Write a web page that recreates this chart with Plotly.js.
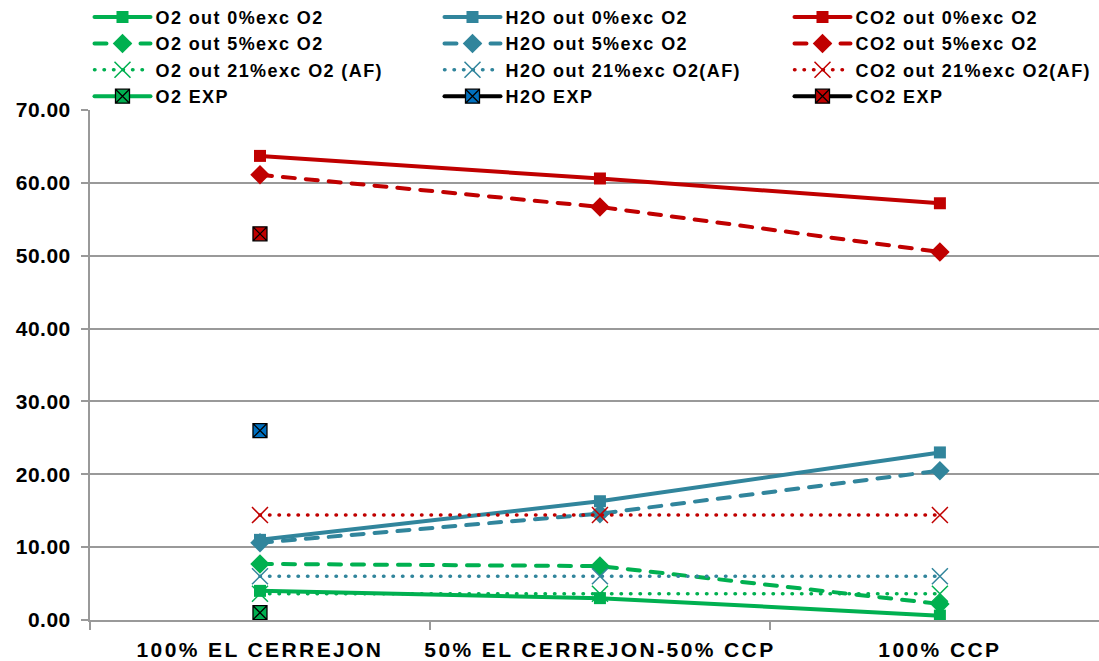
<!DOCTYPE html>
<html>
<head>
<meta charset="utf-8">
<script src="https://cdn.plot.ly/plotly-3.0.1.min.js"></script>
<style>
html,body{margin:0;padding:0;background:#fff;}
#chart{width:1099px;height:661px;}
#chart .legendtext{letter-spacing:1.4px;}
#chart .xtick text{letter-spacing:2.4px;}
#chart .ytick text{letter-spacing:0.5px;}
#chart .scatterlayer .js-line, #chart .legendlines .js-line{stroke-linecap:round;}
</style>
</head>
<body>
<div id="chart"></div>
<script>
const categories = ['100% EL CERREJON', '50% EL CERREJON-50% CCP', '100% CCP'];
const expCategory = ['100% EL CERREJON'];

const o2Out0 = [4.0, 3.0, 0.6];
const h2oOut0 = [11.0, 16.3, 23.0];
const co2Out0 = [63.7, 60.6, 57.2];
const o2Out5 = [7.7, 7.4, 2.2];
const h2oOut5 = [10.6, 14.6, 20.5];
const co2Out5 = [61.1, 56.7, 50.5];
const o2Out21 = [3.6, 3.6, 3.6];
const h2oOut21 = [6.0, 6.0, 6.0];
const co2Out21 = [14.4, 14.4, 14.4];
const o2Exp = [1.0];
const h2oExp = [26.0];
const co2Exp = [53.0];

const names = [
  'O2 out 0%exc O2', 'H2O out 0%exc O2', 'CO2 out 0%exc O2',
  'O2 out 5%exc O2', 'H2O out 5%exc O2', 'CO2 out 5%exc O2',
  'O2 out 21%exc O2 (AF)', 'H2O out 21%exc O2(AF)', 'CO2 out 21%exc O2(AF)',
  'O2 EXP', 'H2O EXP', 'CO2 EXP'
];

const GREEN = '#00b050', TEAL = '#31859c', RED = '#c00000', BLUE = '#0070c0';

function solid(name, y, color) {
  return {x: categories, y: y, name: name, type: 'scatter', mode: 'lines+markers',
    line: {color: color, width: 4}, marker: {symbol: 'square', size: 12, color: color}, cliponaxis: false};
}
function dashed(name, y, color) {
  return {x: categories, y: y, name: name, type: 'scatter', mode: 'lines+markers',
    line: {color: color, width: 4, dash: '12px,11px'}, marker: {symbol: 'diamond', size: 15, color: color}, cliponaxis: false};
}
function dotted(name, y, color) {
  return {x: categories, y: y, name: name, type: 'scatter', mode: 'lines+markers',
    line: {color: color, width: 3.5, dash: '0.5px,9px'},
    marker: {symbol: 'x-thin-open', size: 16, color: color, line: {color: color, width: 1.5}}, cliponaxis: false};
}
function exp(name, y, fill, lineColor) {
  return {x: expCategory, y: y, name: name, type: 'scatter', mode: 'lines+markers',
    line: {color: lineColor, width: 4},
    marker: {symbol: 'square-x', size: 14, color: fill, line: {color: '#000', width: 1.3}}, cliponaxis: false};
}

const data = [
  solid(names[0], o2Out0, GREEN), solid(names[1], h2oOut0, TEAL), solid(names[2], co2Out0, RED),
  dashed(names[3], o2Out5, GREEN), dashed(names[4], h2oOut5, TEAL), dashed(names[5], co2Out5, RED),
  dotted(names[6], o2Out21, GREEN), dotted(names[7], h2oOut21, TEAL), dotted(names[8], co2Out21, RED),
  exp(names[9], o2Exp, GREEN, GREEN), exp(names[10], h2oExp, BLUE, '#000'), exp(names[11], co2Exp, RED, '#000')
];

const FONT = '"Liberation Sans", Arial, sans-serif';

const layout = {
  width: 1099, height: 661,
  margin: {l: 90, r: 0, t: 110, b: 41, autoexpand: false},
  paper_bgcolor: '#fff', plot_bgcolor: '#fff',
  font: {family: FONT, color: '#000', size: 18, weight: 'bold'},
  showlegend: true,
  legend: {
    orientation: 'h', x: -0.0005, y: 1.218, xanchor: 'left', yanchor: 'top',
    entrywidth: 279, entrywidthmode: 'pixels', itemwidth: 56,
    font: {family: FONT, size: 18, color: '#000', weight: 'bold'},
    traceorder: 'normal', bgcolor: 'rgba(0,0,0,0)', tracegroupgap: 0
  },
  xaxis: {
    type: 'category', range: [-0.5, 2.468],
    showgrid: false, showline: true, linecolor: '#999', linewidth: 2,
    ticks: 'outside', tickson: 'boundaries', ticklen: 8, tickcolor: '#999', tickwidth: 2,
    ticklabelstandoff: 10,
    tickfont: {family: FONT, size: 21, color: '#000', weight: 'bold'},
    zeroline: false
  },
  yaxis: {
    range: [0, 70], dtick: 10, tick0: 0, tickformat: '.2f',
    showgrid: true, gridcolor: '#999', gridwidth: 2,
    showline: true, linecolor: '#999', linewidth: 2,
    ticks: 'outside', ticklen: 7, tickcolor: '#999', tickwidth: 2,
    ticklabelstandoff: 6,
    tickfont: {family: FONT, size: 21, color: '#000', weight: 'bold'},
    zeroline: false
  }
};

Plotly.newPlot('chart', data, layout, {displayModeBar: false, responsive: false});
</script>
</body>
</html>
